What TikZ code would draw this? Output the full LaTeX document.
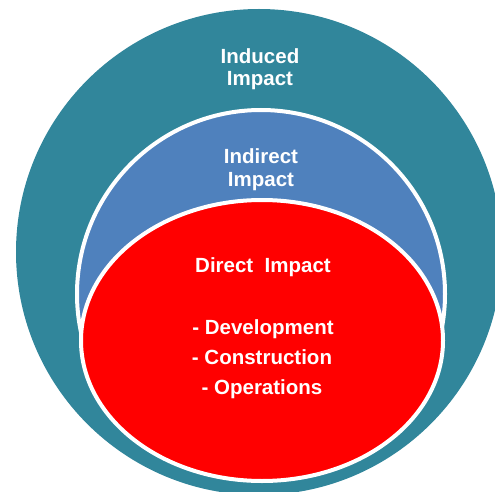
\documentclass[tikz,border=0pt]{standalone}
\usepackage{fontspec}
\setmainfont{Liberation Sans}
\definecolor{tealring}{RGB}{49,134,155}
\definecolor{bluering}{RGB}{79,129,189}
\definecolor{redcore}{RGB}{255,0,0}
\begin{document}
\begin{tikzpicture}[x=1pt,y=1pt,
  lbl/.style={text=white,font=\fontsize{20.5}{24}\selectfont\bfseries,anchor=base,inner sep=0pt},
  ring/.style={draw=white,line width=4pt}]
\useasboundingbox (0,0) rectangle (495,491);
\clip (0,0) rectangle (495,491);
\fill[tealring] (259,239) circle[radius=243];
\filldraw[ring,fill=bluering] (261,197) circle[radius=184];
\filldraw[ring,fill=redcore] (262,150.5) ellipse[x radius=181,y radius=140.5];
\node[lbl] (ind1) at (260,427) {Induced};
\node[lbl] (ind2) at (260,405) {Impact};
\node[lbl] (indr1) at (261,327) {Indirect};
\node[lbl] (indr2) at (261,305) {Impact};
\node[lbl] (dir) at (263,219) {Direct\ \ Impact};
\node[lbl] (dev) at (263,157) {- Development};
\node[lbl] (con) at (262,127) {- Construction};
\node[lbl] (ope) at (262,97) {- Operations};
\end{tikzpicture}
\end{document}
